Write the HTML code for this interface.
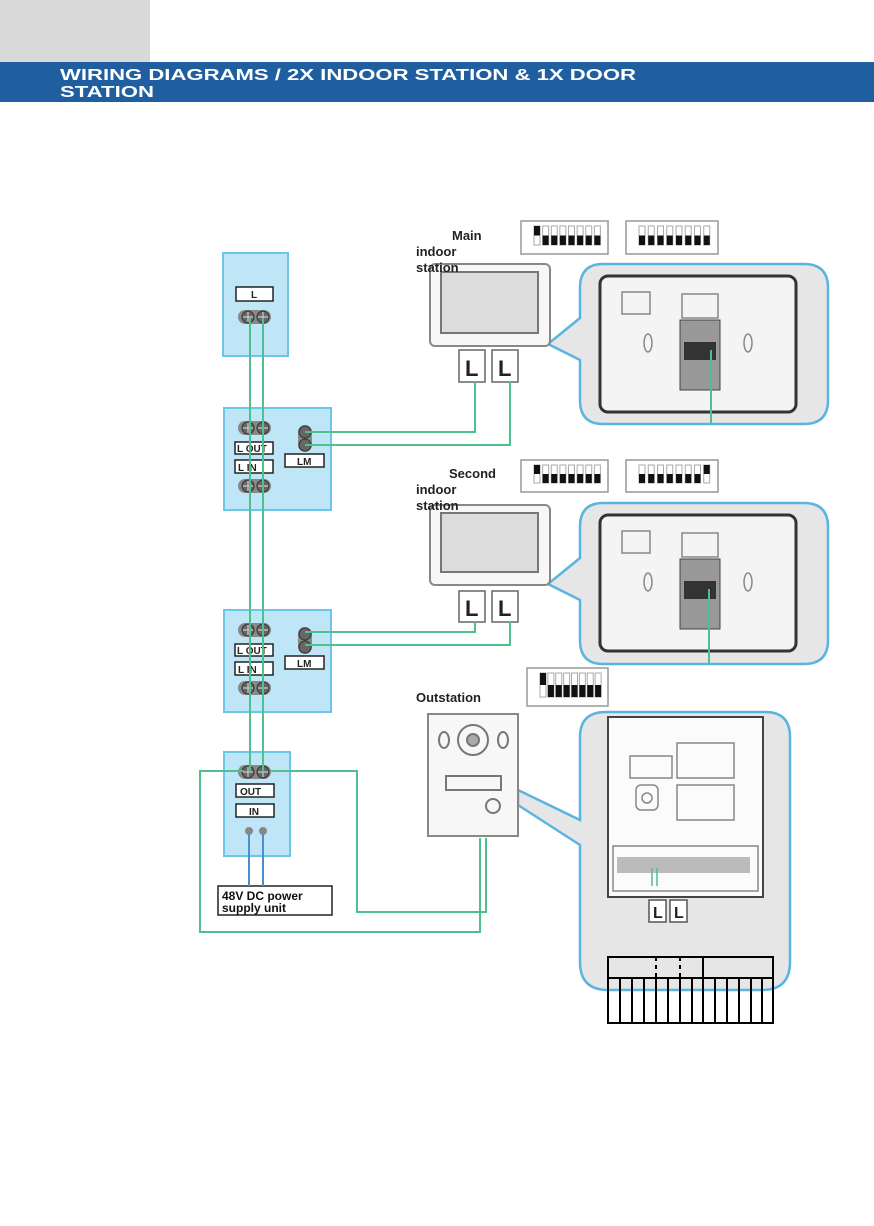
<!DOCTYPE html>
<html><head><meta charset="utf-8"><style>
html,body{margin:0;padding:0;background:#fff;width:874px;height:1226px;overflow:hidden}
svg{display:block}
text{font-family:"Liberation Sans",Arial,sans-serif;font-weight:bold}
</style></head><body>
<svg id="s" width="874" height="1226" viewBox="0 0 874 1226" xmlns="http://www.w3.org/2000/svg">
<rect x="0" y="0" width="150" height="62" fill="#d9d9d9"/>
<rect x="0" y="62" width="874" height="40" fill="#1f5fa0"/>
<text x="60" y="80" font-size="16" fill="#fff" textLength="576" lengthAdjust="spacingAndGlyphs">WIRING DIAGRAMS / 2X INDOOR STATION &amp; 1X DOOR</text>
<text x="60" y="97" font-size="16" fill="#fff" textLength="94" lengthAdjust="spacingAndGlyphs">STATION</text>

<!-- callouts -->
<g fill="#e6e6e7" stroke="#5ab4e0" stroke-width="2.5">
<path d="M603 264 H804 Q828 264 828 288 V400 Q828 424 804 424 H603 Q580 424 580 400 V360 L548 344 L580 318 V288 Q580 264 603 264Z"/>
<path d="M603 503 H804 Q828 503 828 527 V640 Q828 664 804 664 H603 Q580 664 580 640 V600 L548 584 L580 558 V527 Q580 503 603 503Z"/>
<path d="M606 712 H765 Q790 712 790 737 V962 Q790 990 762 990 H608 Q580 990 580 962 V845 L518 805 L518 790 L580 820 V737 Q580 712 606 712 Z"/>
</g>
<rect x="600" y="276" width="196" height="136" rx="8" fill="#f4f4f4" stroke="#333" stroke-width="3"/>
<rect x="600" y="515" width="196" height="136" rx="8" fill="#f4f4f4" stroke="#333" stroke-width="3"/>
<rect x="608" y="717" width="155" height="180" fill="#fbfbfb" stroke="#444" stroke-width="2"/>
<g fill="none" stroke="#888" stroke-width="1.5">
<rect x="622" y="292" width="28" height="22"/><rect x="682" y="294" width="36" height="24"/>
<ellipse cx="648" cy="343" rx="4" ry="9"/><ellipse cx="748" cy="343" rx="4" ry="9"/>
<rect x="622" y="531" width="28" height="22"/><rect x="682" y="533" width="36" height="24"/>
<ellipse cx="648" cy="582" rx="4" ry="9"/><ellipse cx="748" cy="582" rx="4" ry="9"/>
<rect x="630" y="756" width="42" height="22"/><rect x="677" y="743" width="57" height="35"/><rect x="677" y="785" width="57" height="35"/>
<rect x="636" y="785" width="22" height="25" rx="5"/><circle cx="647" cy="798" r="5"/>
<rect x="613" y="846" width="145" height="45"/>
</g>
<rect x="680" y="320" width="40" height="70" fill="#999" stroke="#444"/><rect x="684" y="342" width="32" height="18" fill="#333"/>
<rect x="680" y="559" width="40" height="70" fill="#999" stroke="#444"/><rect x="684" y="581" width="32" height="18" fill="#333"/>
<rect x="617" y="857" width="133" height="16" fill="#bbb"/>
<path d="M711 350 V424 M709 589 V664" stroke="#4fc08d" stroke-width="2"/>
<path d="M652 868 V886 M657 868 V886" stroke="#4fc08d" stroke-width="1.5"/>
<g fill="#fff" stroke="#555" stroke-width="1.5"><rect x="649" y="900" width="17" height="22"/><rect x="670" y="900" width="17" height="22"/></g>
<text x="653" y="918" font-size="16" fill="#222">L</text><text x="674" y="918" font-size="16" fill="#222">L</text>

<!-- table -->
<g fill="none" stroke="#000" stroke-width="2">
<rect x="608" y="957" width="165" height="66"/>
<path d="M608 978 H773 M703 957 V1023"/>
<path d="M656 957 V978 M680 957 V978" stroke-dasharray="4 4"/>
<path d="M620 978V1023M632 978V1023M644 978V1023M656 978V1023M668 978V1023M680 978V1023M692 978V1023M715 978V1023M727 978V1023M739 978V1023M751 978V1023M762 978V1023"/>
</g>

<!-- monitors -->
<g fill="#f7f7f7" stroke="#888" stroke-width="2">
<rect x="430" y="264" width="120" height="82" rx="5"/>
<rect x="430" y="505" width="120" height="80" rx="5"/>
<rect x="428" y="714" width="90" height="122"/>
</g>
<rect x="441" y="272" width="97" height="61" fill="#dcdcdc" stroke="#777" stroke-width="2"/>
<rect x="441" y="513" width="97" height="59" fill="#dcdcdc" stroke="#777" stroke-width="2"/>
<g fill="none" stroke="#777" stroke-width="2">
<circle cx="473" cy="740" r="15"/><circle cx="473" cy="740" r="6" fill="#aaa"/>
<ellipse cx="444" cy="740" rx="5" ry="8"/><ellipse cx="503" cy="740" rx="5" ry="8"/>
<rect x="446" y="776" width="55" height="14"/><circle cx="493" cy="806" r="7"/>
</g>
<text x="430" y="240" font-size="13" fill="#222"><tspan x="452">Main</tspan><tspan x="416" dy="16">indoor</tspan><tspan x="416" dy="16">station</tspan></text>
<text x="430" y="478" font-size="13" fill="#222"><tspan x="449">Second</tspan><tspan x="416" dy="16">indoor</tspan><tspan x="416" dy="16">station</tspan></text>
<text x="416" y="702" font-size="13" fill="#222">Outstation</text>

<g id="dips"></g>

<!-- modules -->
<g fill="#bfe6f7" stroke="#6cc6ea" stroke-width="2">
<rect x="223" y="253" width="65" height="103"/>
<rect x="224" y="408" width="107" height="102"/>
<rect x="224" y="610" width="107" height="102"/>
<rect x="224" y="752" width="66" height="104"/>
</g>
<g id="terms"></g>
<g fill="#fff" stroke="#222" stroke-width="1.5">
<rect x="236" y="287" width="37" height="14"/>
<rect x="235" y="442" width="38" height="12"/><rect x="235" y="460" width="38" height="13"/><rect x="285" y="454" width="39" height="13"/>
<rect x="235" y="644" width="38" height="12"/><rect x="235" y="662" width="38" height="13"/><rect x="285" y="656" width="39" height="13"/>
<rect x="236" y="784" width="38" height="13"/><rect x="236" y="804" width="38" height="13"/>
<rect x="218" y="886" width="114" height="29"/>
</g>
<g font-size="10" fill="#222">
<text x="251" y="298">L</text>
<text x="237" y="452">L OUT</text><text x="238" y="471">L IN</text><text x="297" y="465">LM</text>
<text x="237" y="654">L OUT</text><text x="238" y="673">L IN</text><text x="297" y="667">LM</text>
<text x="240" y="795">OUT</text><text x="249" y="815">IN</text>
</g>
<text x="222" y="900" font-size="12" fill="#111">48V DC power</text>
<text x="222" y="912" font-size="12" fill="#111">supply unit</text>

<!-- L boxes -->
<g fill="#fff" stroke="#666" stroke-width="1.5">
<rect x="459" y="350" width="26" height="32"/><rect x="492" y="350" width="26" height="32"/>
<rect x="459" y="591" width="26" height="31"/><rect x="492" y="591" width="26" height="31"/>
</g>
<g font-size="22" fill="#222"><text x="465" y="376">L</text><text x="498" y="376">L</text><text x="465" y="616">L</text><text x="498" y="616">L</text></g>

<!-- wires -->
<g fill="none" stroke="#4fc08d" stroke-width="2">
<path d="M250 318 V772 M263 318 V772"/>
<path d="M475 382 V432 H305 M510 382 V445 H305"/>
<path d="M475 622 V632 H305 M510 622 V645 H305"/>
<path d="M244 771 H200 V932 H480 V838 M270 771 H357 V912 H486 V838"/>
<path d="M249 834 V886 M263 834 V886" stroke="#4a8fd0"/>
</g>
</svg>
<script>
var NS="http://www.w3.org/2000/svg";
function el(p,t,a){var e=document.createElementNS(NS,t);for(var k in a)e.setAttribute(k,a[k]);p.appendChild(e);return e;}
var T=document.getElementById('terms');
function pair(x,y){el(T,'rect',{x:x-3,y:y-7,width:33,height:14,rx:7,fill:'#888'});[x+4,x+19].forEach(function(c){el(T,'circle',{cx:c+3,cy:y,r:6,fill:'#666',stroke:'#333'});el(T,'path',{d:'M'+(c-2)+' '+y+'h10M'+(c+3)+' '+(y-5)+'v10',stroke:'#ccc','stroke-width':1.2});});}
function vpair(x,y){el(T,'rect',{x:x-7,y:y-7,width:14,height:27,rx:7,fill:'#888'});[y,y+13].forEach(function(c){el(T,'circle',{cx:x,cy:c,r:6,fill:'#666',stroke:'#333'});});}
pair(241,317);pair(241,428);pair(241,486);pair(241,630);pair(241,688);pair(241,772);
vpair(305,432);vpair(305,634);
el(T,'circle',{cx:249,cy:831,r:4,fill:'#888'});el(T,'circle',{cx:263,cy:831,r:4,fill:'#888'});
var D=document.getElementById('dips');
function dip(x,y,w,h,pat){el(D,'rect',{x:x,y:y,width:w,height:h,fill:'#fff',stroke:'#999','stroke-width':1.5});
for(var i=0;i<8;i++){var sx=x+13+i*((w-18)/8);var sh=h-14;el(D,'rect',{x:sx,y:y+5,width:6,height:sh,fill:'#fff',stroke:'#aaa'});
var on=pat[i]=='1';el(D,'rect',{x:sx,y:on?y+5:y+5+sh/2,width:6,height:sh/2,fill:'#111'});}}
dip(521,221,87,33,'10000000');dip(626,221,92,33,'00000000');
dip(521,460,87,32,'10000000');dip(626,460,92,32,'00000001');
dip(527,668,81,38,'10000000');
</script>
</body></html>
